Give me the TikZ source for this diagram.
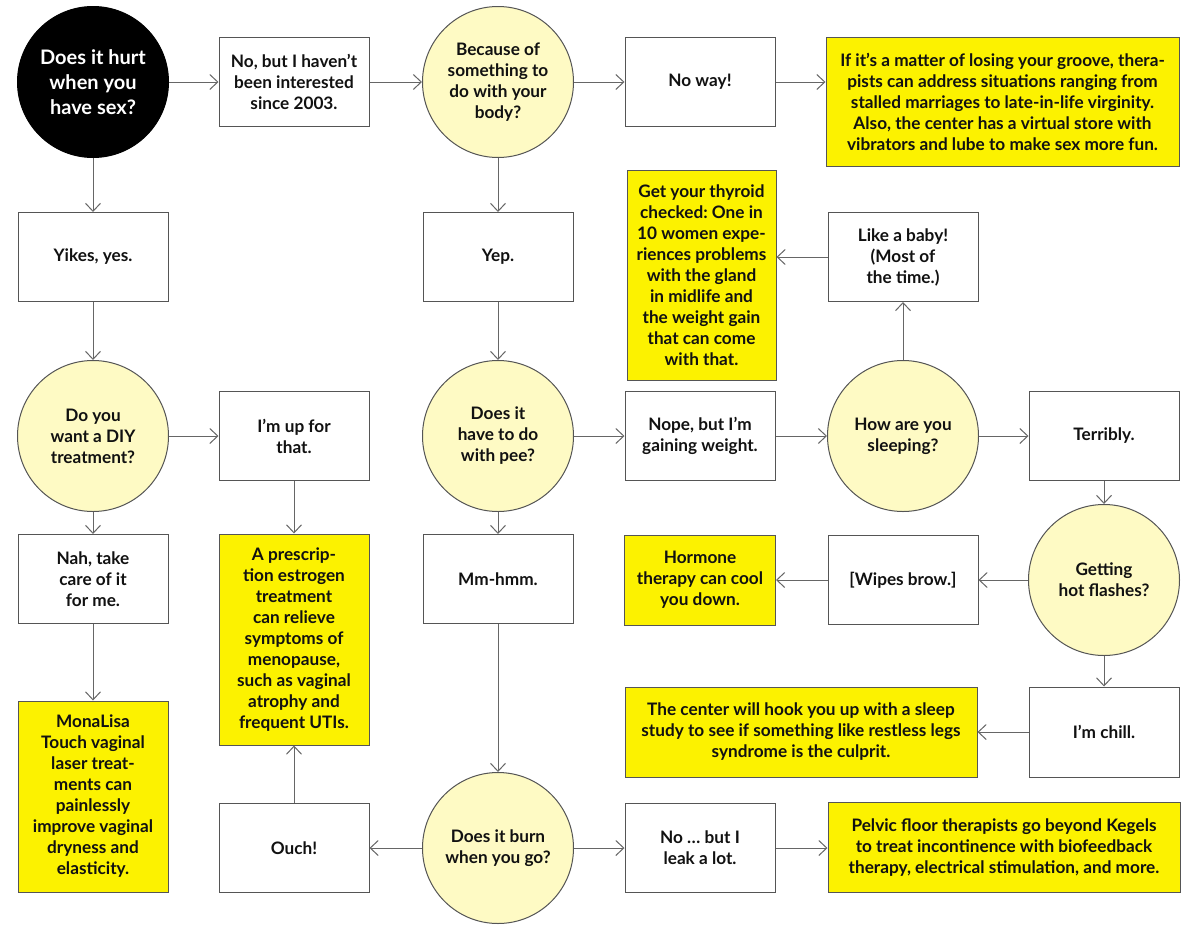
\documentclass[tikz,border=0pt]{standalone}
\usepackage{fontspec}
\setmainfont{Lato}
\frenchspacing
\usetikzlibrary{arrows.meta}
\definecolor{linec}{HTML}{666666}
\definecolor{edgec}{HTML}{555555}
\definecolor{yel}{HTML}{FCF200}
\definecolor{pale}{HTML}{FEFAC4}
\definecolor{ink}{HTML}{111111}
\tikzset{
  base/.style={draw=edgec, line width=1pt, inner sep=0pt, align=center, text=ink},
  box/.style={base, rectangle, fill=white, minimum width=150pt, minimum height=89pt},
  ybox/.style={base, rectangle, fill=yel},
  qcirc/.style={base, circle, fill=pale, minimum size=151pt},
  arr/.style={draw=linec, line width=1pt, -{Straight Barb[length=8pt,width=15pt]}},
}
\begin{document}
\begin{tikzpicture}[x=1pt,y=-1pt,font=\fontsize{17.2}{21}\selectfont\bfseries\frenchspacing]
\fill[white] (0,0) rectangle (1200,932);
\useasboundingbox (0,0) rectangle (1200,932);
% row 1
\node[qcirc, fill=black, draw=black, text=white, font=\fontsize{20}{25}\selectfont\bfseries] (c1) at (93,82) {Does it hurt\\when you\\have sex?};
\node[box] (no1) at (294,82) {No, but I haven’t\\been interested\\since 2003.};
\node[qcirc] (c2) at (498,82) {Because of\\something to\\do with your\\body?};
\node[box] (noway) at (700,82) {No way!};
\node[ybox, minimum width=353pt, minimum height=129pt] (groove) at (1002.5,101.5) {If it’s a matter of losing your groove, thera-\\pists can address situations ranging from\\stalled marriages to late-in-life virginity.\\Also, the center has a virtual store with\\vibrators and lube to make sex more fun.};
% row 2
\node[box] (yikes) at (93,257) {Yikes, yes.};
\node[box] (yep) at (498,257) {Yep.};
\node[ybox, minimum width=149pt, minimum height=210pt] (thyroid) at (701.5,275) {Get your thyroid\\checked: One in\\10 women expe-\\riences problems\\with the gland\\in midlife and\\the weight gain\\that can come\\with that.};
\node[box] (baby) at (903,257) {Like a baby!\\(Most of\\the time.)};
% row 3
\node[qcirc] (diy) at (93,436) {Do you\\want a DIY\\treatment?};
\node[box] (upfor) at (294,436) {I’m up for\\that.};
\node[qcirc] (pee) at (498,436) {Does it\\have to do\\with pee?};
\node[box] (nope) at (700,436) {Nope, but I’m\\gaining weight.};
\node[qcirc] (sleep) at (903,436) {How are you\\sleeping?};
\node[box] (terribly) at (1104,436) {Terribly.};
% row 4
\node[box] (nah) at (93,579) {Nah, take\\care of it\\for me.};
\node[ybox, minimum width=150pt, minimum height=211pt] (presc) at (294,639.5) {A prescrip-\\tion estrogen\\treatment\\can relieve\\symptoms of\\menopause,\\such as vaginal\\atrophy and\\frequent UTIs.};
\node[box] (mmhmm) at (498,579) {Mm-hmm.};
\node[ybox, minimum width=151pt, minimum height=90pt] (hormone) at (700,580) {Hormone\\therapy can cool\\you down.};
\node[box] (wipes) at (903,580) {[Wipes brow.]};
\node[qcirc] (hot) at (1104,580) {Getting\\hot flashes?};
% row 5
\node[ybox, minimum width=150pt, minimum height=191pt] (mona) at (93,796.5) {MonaLisa\\Touch vaginal\\laser treat-\\ments can\\painlessly\\improve vaginal\\dryness and\\elasticity.};
\node[ybox, minimum width=352pt, minimum height=90pt] (study) at (801,732) {The center will hook you up with a sleep\\study to see if something like restless legs\\syndrome is the culprit.};
\node[box, minimum height=90pt] (chill) at (1104,732) {I’m chill.};
% row 6
\node[box] (ouch) at (294,848) {Ouch!};
\node[qcirc] (burn) at (498,848) {Does it burn\\when you go?};
\node[box] (leak) at (700,848) {No … but I\\leak a lot.};
\node[ybox, minimum width=352pt, minimum height=90pt] (pelvic) at (1004,847.5) {Pelvic floor therapists go beyond Kegels\\to treat incontinence with biofeedback\\therapy, electrical stimulation, and more.};
% connectors
\draw[arr] (c1) -- (no1);
\draw[arr] (no1) -- (c2);
\draw[arr] (c2) -- (noway);
\draw[arr] (noway.east) -- (noway.east -| groove.west);
\draw[arr] (c1) -- (yikes);
\draw[arr] (c2) -- (yep);
\draw[arr] (yikes) -- (diy);
\draw[arr] (yep) -- (pee);
\draw[arr] (baby.west) -- (baby.west -| thyroid.east);
\draw[arr] (sleep) -- (baby);
\draw[arr] (diy) -- (upfor);
\draw[arr] (pee) -- (nope);
\draw[arr] (nope) -- (sleep);
\draw[arr] (sleep) -- (terribly);
\draw[arr] (diy) -- (nah);
\draw[arr] (upfor) -- (presc);
\draw[arr] (pee) -- (mmhmm);
\draw[arr] (terribly) -- (hot);
\draw[arr] (hot) -- (wipes);
\draw[arr] (wipes.west) -- (wipes.west -| hormone.east);
\draw[arr] (nah) -- (mona);
\draw[arr] (hot) -- (chill);
\draw[arr] (chill) -- (study);
\draw[arr] (mmhmm) -- (burn);
\draw[arr] (burn) -- (ouch);
\draw[arr] (ouch) -- (presc);
\draw[arr] (burn) -- (leak);
\draw[arr] (leak.east) -- (leak.east -| pelvic.west);
\end{tikzpicture}
\end{document}
